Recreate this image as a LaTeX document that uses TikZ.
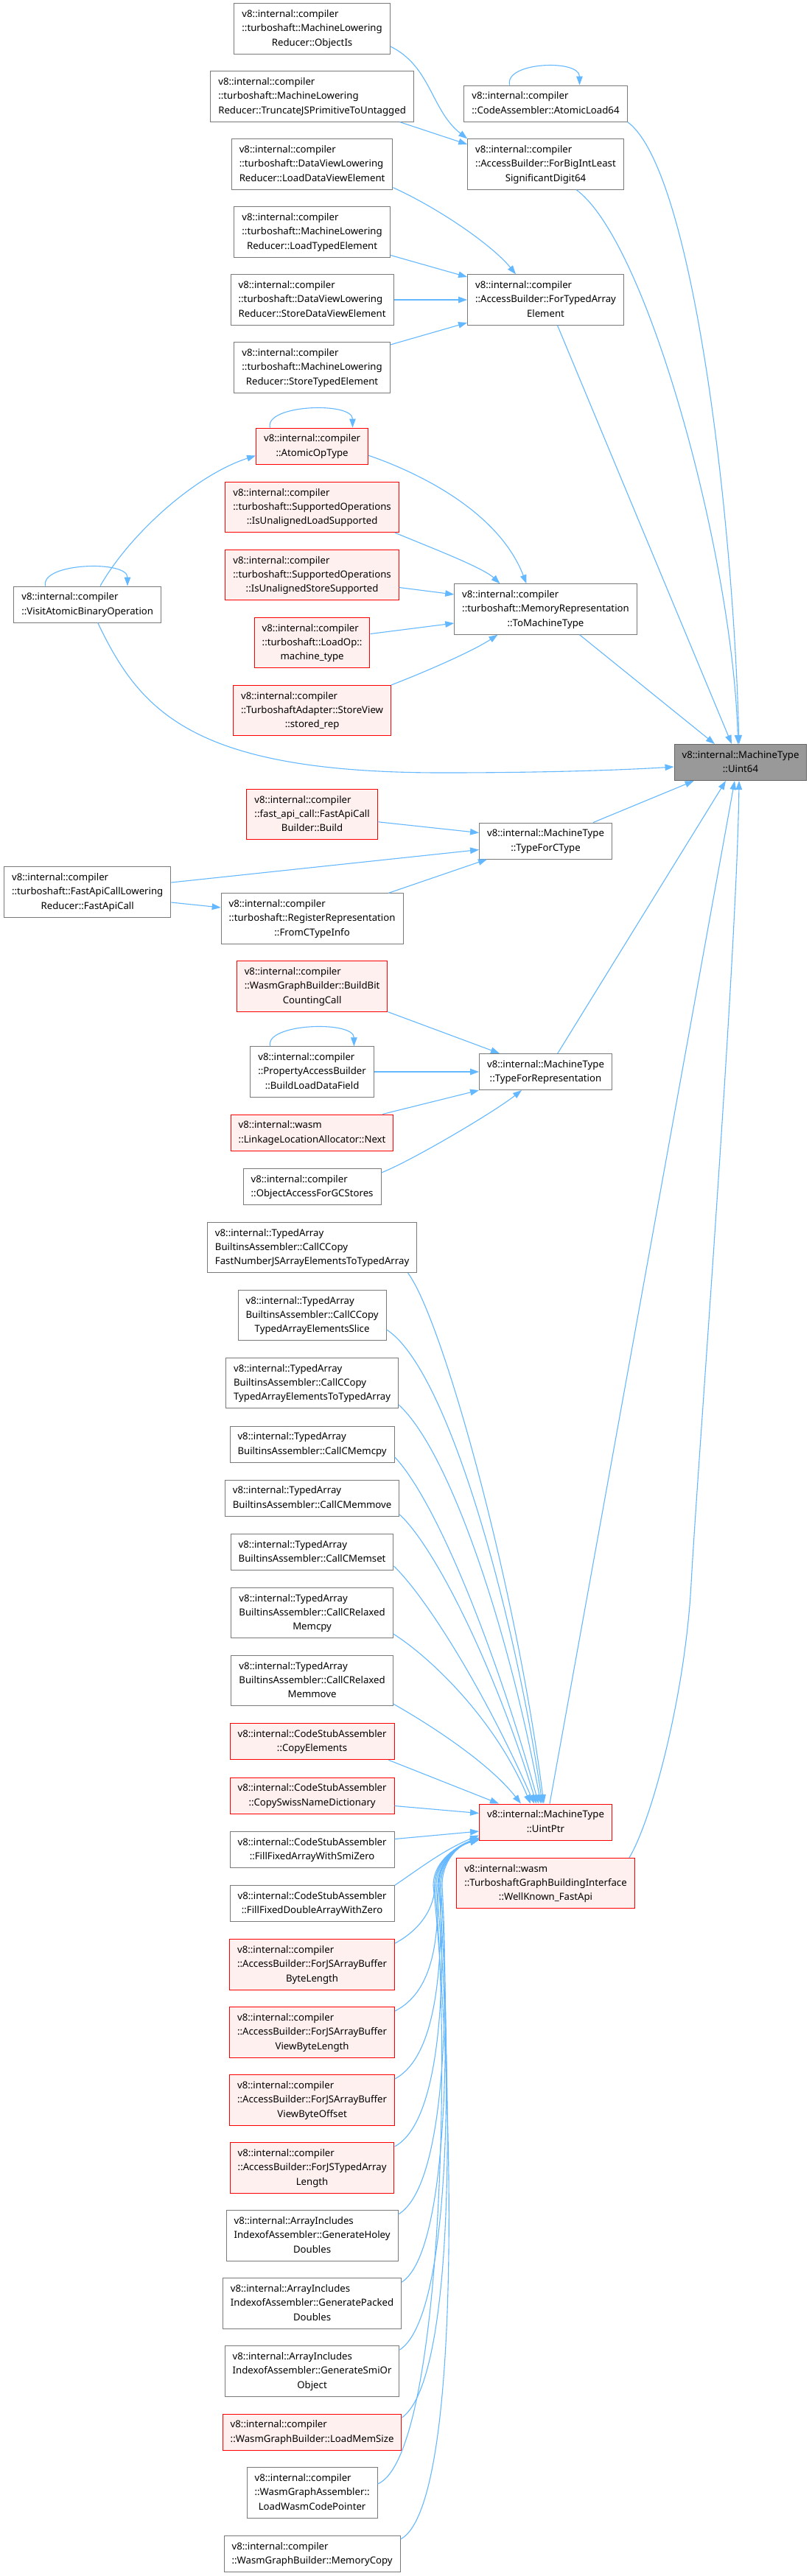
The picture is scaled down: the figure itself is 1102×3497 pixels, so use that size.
\documentclass[tikz,border=0pt]{standalone}
\usepackage{fontspec}
\setmainfont{Noto Sans}
\usetikzlibrary{arrows.meta,calc}

\definecolor{edgeblue}{HTML}{63B8FF}
\definecolor{boxline}{HTML}{7A7A7A}
\definecolor{rootline}{HTML}{666666}
\definecolor{rootfill}{HTML}{999999}
\definecolor{truncfill}{HTML}{FFF0F0}

% doxygen label: every line flush left, the last one centred
\newcommand{\fnlbl}[2]{\begin{tabular}{@{}l@{}}#1\\\multicolumn{1}{@{}c@{}}{#2}\end{tabular}}

\begin{document}
\begin{tikzpicture}[
  x=1pt, y=-1pt,                 % pixel grid, y down from the top left
  font=\fontsize{13.2}{19.3}\selectfont,
  fn/.style    = {draw=boxline, line width=1pt, fill=white,
                  inner xsep=10.5pt, inner ysep=5.2pt},
  trunc/.style = {fn, draw=red, fill=truncfill},   % graph cut off here
  focus/.style = {fn, draw=rootline, fill=rootfill},
  call/.style  = {line width=1.1pt, edgeblue, -{Triangle[length=12pt,width=8.5pt]}},
]
  \useasboundingbox[fill=white] (0,0) rectangle (1102,3497);

  % callers of the two AccessBuilder helpers
  \node[fn] (objIs)   at (423.6,39)  {\fnlbl{v8::internal::compiler\\::turboshaft::MachineLowering}{Reducer::ObjectIs}};
  \node[fn] (truncJS) at (423.6,131) {\fnlbl{v8::internal::compiler\\::turboshaft::MachineLowering}{Reducer::TruncateJSPrimitiveToUntagged}};
  \node[fn] (loadDV)  at (423.6,223) {\fnlbl{v8::internal::compiler\\::turboshaft::DataViewLowering}{Reducer::LoadDataViewElement}};
  \node[fn] (loadTE)  at (423.6,315) {\fnlbl{v8::internal::compiler\\::turboshaft::MachineLowering}{Reducer::LoadTypedElement}};
  \node[fn] (storeDV) at (423.6,407) {\fnlbl{v8::internal::compiler\\::turboshaft::DataViewLowering}{Reducer::StoreDataViewElement}};
  \node[fn] (storeTE) at (423.6,499) {\fnlbl{v8::internal::compiler\\::turboshaft::MachineLowering}{Reducer::StoreTypedElement}};
  \node[fn] (atomicLoad) at (740.5,140.5) {\fnlbl{v8::internal::compiler}{::CodeAssembler::AtomicLoad64}};
  \node[fn] (forBigInt)  at (740.5,223)   {\fnlbl{v8::internal::compiler\\::AccessBuilder::ForBigIntLeast}{SignificantDigit64}};
  \node[fn] (forTAE)     at (740.5,407)   {\fnlbl{v8::internal::compiler\\::AccessBuilder::ForTypedArray}{Element}};

  % ToMachineType and its callers
  \node[trunc] (atomicOp) at (423.6,605.5) {\fnlbl{v8::internal::compiler}{::AtomicOpType}};
  \node[trunc] (isULoad)  at (423.6,688.5) {\fnlbl{v8::internal::compiler\\::turboshaft::SupportedOperations}{::IsUnalignedLoadSupported}};
  \node[trunc] (isUStore) at (423.6,780.5) {\fnlbl{v8::internal::compiler\\::turboshaft::SupportedOperations}{::IsUnalignedStoreSupported}};
  \node[trunc] (loadOpMT) at (423.6,872.5) {\fnlbl{v8::internal::compiler\\::turboshaft::LoadOp::}{machine\_type}};
  \node[trunc] (storeRep) at (423.6,964.5) {\fnlbl{v8::internal::compiler\\::TurboshaftAdapter::StoreView}{::stored\_rep}};
  \node[fn] (visitAtomic) at (118.7,820.5) {\fnlbl{v8::internal::compiler}{::VisitAtomicBinaryOperation}};
  \node[fn] (toMT)        at (740.5,827)   {\fnlbl{v8::internal::compiler\\::turboshaft::MemoryRepresentation}{::ToMachineType}};

  \node[focus] (uint64) at (1005,1035) {\fnlbl{v8::internal::MachineType}{::Uint64}};

  % TypeForCType / TypeForRepresentation
  \node[trunc] (fastBuild)  at (423.6,1105.7) {\fnlbl{v8::internal::compiler\\::fast\_api\_call::FastApiCall}{Builder::Build}};
  \node[fn] (typeForCType)  at (740.5,1141.5) {\fnlbl{v8::internal::MachineType}{::TypeForCType}};
  \node[fn] (fastApiCall)   at (118.7,1211)   {\fnlbl{v8::internal::compiler\\::turboshaft::FastApiCallLowering}{Reducer::FastApiCall}};
  \node[fn] (fromCType)     at (423.6,1247)   {\fnlbl{v8::internal::compiler\\::turboshaft::RegisterRepresentation}{::FromCTypeInfo}};
  \node[trunc] (bitCount)   at (423.6,1339)   {\fnlbl{v8::internal::compiler\\::WasmGraphBuilder::BuildBit}{CountingCall}};
  \node[fn] (buildLDF)      at (423.6,1455)   {\fnlbl{v8::internal::compiler\\::PropertyAccessBuilder}{::BuildLoadDataField}};
  \node[fn] (typeForRep)    at (740.5,1455)   {\fnlbl{v8::internal::MachineType}{::TypeForRepresentation}};
  \node[trunc] (linkNext)   at (423.6,1537.5) {\fnlbl{v8::internal::wasm}{::LinkageLocationAllocator::Next}};
  \node[fn] (objAccGC)      at (423.6,1611)   {\fnlbl{v8::internal::compiler}{::ObjectAccessForGCStores}};

  % callers of UintPtr, top to bottom
  \node[fn] (ccopyFast)   at (423.6,1693.5) {\fnlbl{v8::internal::TypedArray\\BuiltinsAssembler::CallCCopy}{FastNumberJSArrayElementsToTypedArray}};
  \node[fn] (ccopySlice)  at (423.6,1785.5) {\fnlbl{v8::internal::TypedArray\\BuiltinsAssembler::CallCCopy}{TypedArrayElementsSlice}};
  \node[fn] (ccopyTA)     at (423.6,1877.5) {\fnlbl{v8::internal::TypedArray\\BuiltinsAssembler::CallCCopy}{TypedArrayElementsToTypedArray}};
  \node[fn] (cmemcpy)     at (423.6,1960.5) {\fnlbl{v8::internal::TypedArray}{BuiltinsAssembler::CallCMemcpy}};
  \node[fn] (cmemmove)    at (423.6,2033.5) {\fnlbl{v8::internal::TypedArray}{BuiltinsAssembler::CallCMemmove}};
  \node[fn] (cmemset)     at (423.6,2107)   {\fnlbl{v8::internal::TypedArray}{BuiltinsAssembler::CallCMemset}};
  \node[fn] (crelMemcpy)  at (423.6,2189.5) {\fnlbl{v8::internal::TypedArray\\BuiltinsAssembler::CallCRelaxed}{Memcpy}};
  \node[fn] (crelMemmove) at (423.6,2281.5) {\fnlbl{v8::internal::TypedArray\\BuiltinsAssembler::CallCRelaxed}{Memmove}};
  \node[trunc] (copyElem)  at (423.6,2364.3) {\fnlbl{v8::internal::CodeStubAssembler}{::CopyElements}};
  \node[trunc] (copySwiss) at (423.6,2437.5) {\fnlbl{v8::internal::CodeStubAssembler}{::CopySwissNameDictionary}};
  \node[fn] (fillSmi)     at (423.6,2511)   {\fnlbl{v8::internal::CodeStubAssembler}{::FillFixedArrayWithSmiZero}};
  \node[fn] (fillDbl)     at (423.6,2584.3) {\fnlbl{v8::internal::CodeStubAssembler}{::FillFixedDoubleArrayWithZero}};
  \node[trunc] (forABBL)  at (423.6,2667) {\fnlbl{v8::internal::compiler\\::AccessBuilder::ForJSArrayBuffer}{ByteLength}};
  \node[trunc] (forABVBL) at (423.6,2759) {\fnlbl{v8::internal::compiler\\::AccessBuilder::ForJSArrayBuffer}{ViewByteLength}};
  \node[trunc] (forABVBO) at (423.6,2851) {\fnlbl{v8::internal::compiler\\::AccessBuilder::ForJSArrayBuffer}{ViewByteOffset}};
  \node[trunc] (forJSTAL) at (423.6,2943) {\fnlbl{v8::internal::compiler\\::AccessBuilder::ForJSTypedArray}{Length}};
  \node[fn] (genHoley)    at (423.6,3035)   {\fnlbl{v8::internal::ArrayIncludes\\IndexofAssembler::GenerateHoley}{Doubles}};
  \node[fn] (genPacked)   at (423.6,3127)   {\fnlbl{v8::internal::ArrayIncludes\\IndexofAssembler::GeneratePacked}{Doubles}};
  \node[fn] (genSmiObj)   at (423.6,3219)   {\fnlbl{v8::internal::ArrayIncludes\\IndexofAssembler::GenerateSmiOr}{Object}};
  \node[trunc] (loadMemSize) at (423.6,3301.5) {\fnlbl{v8::internal::compiler}{::WasmGraphBuilder::LoadMemSize}};
  \node[fn] (loadWasmCP)  at (423.6,3384)   {\fnlbl{v8::internal::compiler\\::WasmGraphAssembler::}{LoadWasmCodePointer}};
  \node[fn] (memCopy)     at (423.6,3467)   {\fnlbl{v8::internal::compiler}{::WasmGraphBuilder::MemoryCopy}};

  \node[trunc] (uintPtr)   at (740.5,2473.5) {\fnlbl{v8::internal::MachineType}{::UintPtr}};
  \node[trunc] (wellKnown) at (740.5,2556.5) {\fnlbl{v8::internal::wasm\\::TurboshaftGraphBuildingInterface}{::WellKnown\_FastApi}};

  % top block
  \draw[call] ($(objIs.east)+(0,24)$) .. controls (585,90) and (585,150) .. (forBigInt.north west);
  \draw[call] ($(truncJS.south)+(119,0)$) -- ($(forBigInt.west)+(0,-27)$);
  \draw[call] ($(loadDV.east)+(0,31.6)$) .. controls (600,285) and (670,335) .. ($(forTAE.north)+(-40.5,0)$);
  \draw[call] ($(loadTE.east)+(0,31.4)$) -- ($(forTAE.west)+(0,-31)$);
  \draw[call] (storeDV.east) -- (forTAE.west);
  \draw[call] ($(storeTE.east)+(0,-31)$) -- ($(forTAE.west)+(0,31)$);
  \draw[call] ($(atomicLoad.north)+(-48.8,0)$) .. controls (684,84) and (786.5,80) .. ($(atomicLoad.north)+(46,0)$);
  \draw[call] (atomicLoad.south east) .. controls (940,230) and (995,700) .. ($(uint64.north)+(-2,0)$);
  \draw[call] ($(forBigInt.south)+(41.7,0)$) .. controls (880,330) and (995,760) .. ($(uint64.north)+(-3.5,0)$);
  \draw[call] ($(forTAE.south)+(16,0)$) -- ($(uint64.north)+(-12,0)$);

  % ToMachineType block
  \draw[call] ($(atomicOp.north)+(-57.2,0)$) .. controls (359,549) and (478.5,545) .. ($(atomicOp.north)+(54.9,0)$);
  \draw[call] ($(atomicOp.east)+(0,12.8)$) .. controls (558,638) and (675,690) .. ($(toMT.north)+(-26,0)$);
  \draw[call] ($(isULoad.south)+(112.4,0)$) .. controls (576,740) and (655,770) .. ($(toMT.north)+(-62,0)$);
  \draw[call] ($(isUStore.east)+(0,17)$) -- ($(toMT.west)+(0,-20)$);
  \draw[call] ($(loadOpMT.east)+(0,-12)$) -- ($(toMT.west)+(0,19)$);
  \draw[call] (storeRep.north east) .. controls (570,915) and (640,885) .. ($(toMT.south)+(-65,0)$);
  \draw[call] ($(visitAtomic.north)+(-57,0)$) .. controls (54,764) and (173,760) .. ($(visitAtomic.north)+(54.3,0)$);
  \draw[call] ($(visitAtomic.north)+(17.3,0)$) .. controls (176,725) and (265,645) .. ($(atomicOp.west)+(0,13)$);
  \draw[call] ($(visitAtomic.south)+(14,0)$) .. controls (190,965) and (260,1049) .. (600,1049)
                .. controls (750,1049) and (850,1045) .. ($(uint64.west)+(0,6)$);
  \draw[call] ($(toMT.south)+(46,0)$) -- ($(uint64.north)+(-35,0)$);

  % TypeForCType / TypeForRepresentation block
  \draw[call] ($(fastBuild.east)+(0,10)$) -- ($(typeForCType.west)+(0,-11)$);
  \draw[call] ($(fastApiCall.east)+(0,-13)$) -- ($(typeForCType.west)+(0,12)$);
  \draw[call] ($(fastApiCall.east)+(0,14)$) -- ($(fromCType.west)+(0,-15)$);
  \draw[call] ($(fromCType.north)+(103.6,0)$) -- ($(typeForCType.south)+(-79.4,0)$);
  \draw[call] ($(typeForCType.north)+(64.6,0)$) -- ($(uint64.south)+(-63.3,0)$);
  \draw[call] (bitCount.south east) -- ($(typeForRep.north)+(-62.5,0)$);
  \draw[call] ($(buildLDF.north)+(-57,0)$) .. controls (359,1389) and (480.4,1385) .. ($(buildLDF.north)+(56.8,0)$);
  \draw[call] (buildLDF.east) -- (typeForRep.west);
  \draw[call] ($(linkNext.north)+(95.6,0)$) -- (typeForRep.south west);
  \draw[call] ($(objAccGC.east)+(0,-19)$) .. controls (560,1575) and (670,1510) .. ($(typeForRep.south)+(-32.5,0)$);
  \draw[call] ($(typeForRep.north)+(16.3,0)$) -- ($(uint64.south)+(-20,0)$);

  % UintPtr block: callers above it
  \draw[call] ($(ccopyFast.south)+(130,0)$) .. controls (600,1790) and (700,2150) .. ($(uintPtr.north)+(-2.5,0)$);
  \draw[call] ($(ccopySlice.east)+(0,19.5)$) .. controls (610,1860) and (700,2200) .. ($(uintPtr.north)+(-4.5,0)$);
  \draw[call] ($(ccopyTA.east)+(0,29.5)$) .. controls (610,1970) and (690,2210) .. ($(uintPtr.north)+(-6.5,0)$);
  \draw[call] ($(cmemcpy.east)+(0,17.5)$) .. controls (590,2035) and (670,2230) .. ($(uintPtr.north)+(-9.5,0)$);
  \draw[call] ($(cmemmove.east)+(0,22.5)$) .. controls (590,2100) and (670,2260) .. ($(uintPtr.north)+(-12.5,0)$);
  \draw[call] ($(cmemset.east)+(0,19)$) .. controls (580,2170) and (660,2300) .. ($(uintPtr.north)+(-15.5,0)$);
  \draw[call] ($(crelMemcpy.east)+(0,28.5)$) .. controls (580,2247) and (670,2330) .. ($(uintPtr.north)+(-20.5,0)$);
  \draw[call] ($(crelMemmove.east)+(0,31.5)$) .. controls (590,2345) and (665,2395) .. ($(uintPtr.north)+(-33.5,0)$);
  \draw[call] ($(copyElem.south)+(103.8,0)$) -- ($(uintPtr.north)+(-63.5,0)$);
  \draw[call] ($(copySwiss.east)+(0,14)$) -- ($(uintPtr.west)+(0,-12)$);
  \draw[call] ($(fillSmi.east)+(0,-14.5)$) -- ($(uintPtr.west)+(0,12.5)$);
  \draw[call] (fillDbl.north east) .. controls (565,2540) and (600,2512) .. ($(uintPtr.west)+(0,18)$);

  % callers below it: up the bundle left of WellKnown_FastApi, then right
  \draw[call] ($(forABBL.east)+(0,-29)$) .. controls (570,2620) and (590,2590) .. (590,2560)
                .. controls (590,2525) and (622,2505) .. ($(uintPtr.south west)+(0,-4)$);
  \draw[call] ($(forABVBL.east)+(0,-29)$) .. controls (585,2705) and (596,2640) .. (594,2560)
                .. controls (594,2525) and (622,2505) .. ($(uintPtr.south west)+(0,-3)$);
  \draw[call] ($(forABVBO.east)+(0,-29)$) .. controls (595,2790) and (600,2660) .. (598,2560)
                .. controls (598,2525) and (622,2505) .. ($(uintPtr.south west)+(0,-3)$);
  \draw[call] ($(forJSTAL.east)+(0,-29)$) .. controls (600,2880) and (605,2680) .. (596,2560)
                .. controls (596,2525) and (622,2505) .. ($(uintPtr.south west)+(0,-2)$);
  \draw[call] ($(genHoley.east)+(0,-29)$) .. controls (608,2965) and (608,2700) .. (600,2560)
                .. controls (600,2525) and (622,2505) .. ($(uintPtr.south west)+(0,-2)$);
  \draw[call] ($(genPacked.east)+(0,-29)$) .. controls (612,3055) and (610,2720) .. (598,2560)
                .. controls (598,2525) and (622,2505) .. ($(uintPtr.south west)+(0,-2)$);
  \draw[call] ($(genSmiObj.east)+(0,-29)$) .. controls (618,3140) and (612,2740) .. (595,2560)
                .. controls (595,2525) and (622,2505) .. ($(uintPtr.south west)+(0,-1)$);
  \draw[call] ($(loadMemSize.east)+(0,-19.5)$) .. controls (625,3225) and (612,2760) .. (592,2560)
                .. controls (592,2525) and (622,2505) .. ($(uintPtr.south west)+(0,-1)$);
  \draw[call] ($(loadWasmCP.east)+(0,-12)$) .. controls (600,3335) and (612,2780) .. (590,2560)
                .. controls (590,2525) and (622,2505) .. ($(uintPtr.south west)+(0,-1)$);
  \draw[call] ($(memCopy.east)+(0,-20)$) .. controls (632,3400) and (614,2800) .. (588,2560)
                .. controls (588,2525) and (622,2505) .. ($(uintPtr.south west)+(0,-1)$);

  \draw[call] ($(uintPtr.north)+(5.5,0)$) -- ($(uint64.south)+(-8,0)$);
  \draw[call] ($(wellKnown.north)+(113.5,0)$) .. controls (885,2470) and (930,2300) .. (938,2150)
                .. controls (946,2000) and (1000,1300) .. ($(uint64.south)+(-2,0)$);
\end{tikzpicture}
\end{document}
